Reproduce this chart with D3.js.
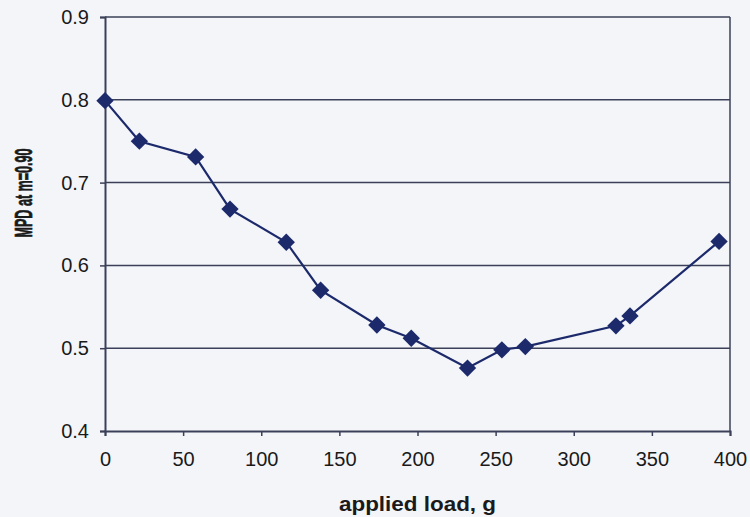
<!DOCTYPE html>
<html>
<head>
<meta charset="utf-8">
<script src="https://cdn.jsdelivr.net/npm/d3@7"></script>
<style>
  body { margin: 0; background: #f4f5f9; }
  text { font-family: "Liberation Sans", Arial, sans-serif; fill: #1a1a1a; }
  .tick text { font-size: 20px; }
  .axis-label { font-weight: bold; font-size: 21px; }
</style>
</head>
<body>
<div id="chart"></div>
<script>
const loads = [0, 22, 58, 80, 116, 138, 174, 196, 232, 254, 269, 327, 336, 393];
const mpd = [0.799, 0.750, 0.731, 0.668, 0.628, 0.570, 0.528, 0.512, 0.476, 0.498, 0.502, 0.527, 0.539, 0.629];
const xTicks = [0, 50, 100, 150, 200, 250, 300, 350, 400];
const yTicks = [0.4, 0.5, 0.6, 0.7, 0.8, 0.9];

const width = 750, height = 517;
const margin = { top: 17, right: 20, bottom: 86, left: 105 };
const innerwidth = width - margin.left - margin.right;
const innerheight = height - margin.top - margin.bottom;

const lineColor = "#1c2a6c";
const gridColor = "#3b4058";

const data = loads.map((d, i) => ({ x: d, y: mpd[i] }));

const svg = d3.select("#chart")
    .append("svg")
    .attr("width", width)
    .attr("height", height);

svg.append("rect")
    .attr("width", width)
    .attr("height", height)
    .attr("fill", "#f4f5f9");

const innerChart = svg.append("g")
    .attr("transform", `translate(${margin.left},${margin.top})`);

const xScale = d3.scaleLinear().domain([0, 400]).range([0, innerwidth]);
const yScale = d3.scaleLinear().domain([0.4, 0.9]).range([innerheight, 0]);

// gridlines
innerChart.selectAll("line.grid")
    .data(yTicks.slice(1))
    .join("line")
    .attr("class", "grid")
    .attr("x1", 0)
    .attr("x2", innerwidth)
    .attr("y1", d => yScale(d))
    .attr("y2", d => yScale(d))
    .attr("stroke", gridColor)
    .attr("stroke-width", 1.5);

// right border
innerChart.append("line")
    .attr("x1", innerwidth).attr("x2", innerwidth)
    .attr("y1", 0).attr("y2", innerheight)
    .attr("stroke", gridColor)
    .attr("stroke-width", 1.5);

const bottomAxis = d3.axisBottom(xScale)
    .tickValues(xTicks)
    .tickSize(5)
    .tickPadding(16)
    .tickFormat(d3.format("d"));

const xAxis = innerChart.append("g")
    .attr("transform", `translate(0,${innerheight})`)
    .call(bottomAxis);

const leftAxis = d3.axisLeft(yScale)
    .tickValues(yTicks)
    .tickSize(5)
    .tickPadding(11)
    .tickFormat(d3.format(".1f"));

const yAxis = innerChart.append("g").call(leftAxis);

[xAxis, yAxis].forEach(a => {
    a.select(".domain").attr("stroke", gridColor).attr("stroke-width", 2);
    a.selectAll(".tick line").attr("stroke", gridColor).attr("stroke-width", 1.5);
    a.selectAll(".tick text").attr("fill", "#1a1a1a");
});

// line
const line = d3.line().x(d => xScale(d.x)).y(d => yScale(d.y));

innerChart.append("path")
    .datum(data)
    .attr("d", line)
    .attr("fill", "none")
    .attr("stroke", lineColor)
    .attr("stroke-width", 2.2);

// diamond markers
innerChart.selectAll("path.marker")
    .data(data)
    .join("path")
    .attr("class", "marker")
    .attr("d", d3.symbol(d3.symbolSquare, 150))
    .attr("transform", d => `translate(${xScale(d.x)},${yScale(d.y)}) rotate(45)`)
    .attr("fill", lineColor);

svg.append("text")
    .text("applied load, g")
    .attr("x", margin.left + innerwidth / 2)
    .attr("y", height - 6)
    .attr("text-anchor", "middle")
    .attr("textLength", 157)
    .attr("lengthAdjust", "spacingAndGlyphs")
    .attr("class", "axis-label");

svg.append("text")
    .text("MPD at m=0.90")
    .attr("transform", `translate(32,193) rotate(-90)`)
    .attr("text-anchor", "middle")
    .attr("textLength", 89)
    .attr("lengthAdjust", "spacingAndGlyphs")
    .attr("class", "axis-label")
    .attr("stroke", "#1a1a1a")
    .attr("stroke-width", 0.7)
    .style("font-size", "23px");
</script>
</body>
</html>
